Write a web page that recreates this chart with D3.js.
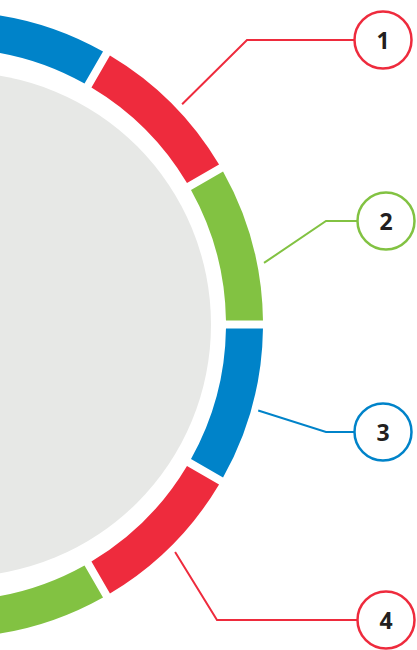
<!DOCTYPE html>
<html>
<head>
<meta charset="utf-8">
<script src="https://cdn.jsdelivr.net/npm/d3@7/dist/d3.min.js"></script>
<style>
  html, body { margin: 0; padding: 0; background: #fff; }
  svg { display: block; }
  .callout-label { font-family: "Open Sans", "DejaVu Sans", sans-serif; font-weight: 700; }
</style>
</head>
<body>
<svg id="chart" width="417" height="650"></svg>
<script>
// ring segments, clockwise from 12 o'clock
var segmentValues = [1, 1, 1, 1, 1, 1, 1, 1, 1, 1, 1, 1];
var segmentKinds = ["blue", "red", "green", "blue", "red", "green",
                    "blue", "red", "green", "blue", "red", "green"];
// numbered callouts and the segment each one points at
var calloutLabels = ["1", "2", "3", "4"];
var calloutSegments = [1, 2, 3, 4];

(function () {
  "use strict";

  var palette = { blue: "#0083c9", red: "#ee2b3d", green: "#82c242" };
  var width = 417, height = 650;

  // the circle is centred off the left edge of the picture
  var ringCx = -50, ringCy = 324.5, innerR = 276, outerR = 313;
  var diskCx = -41, diskR = 252;
  var anchorR = 320;

  // where along its segment each leader line starts, and the elbow / badge spots
  var anchorFrac = [0.55, 0.63, 0.52, 0.51];
  var elbows = [[247, 40], [326, 221], [326, 432], [217, 620]];
  var badges = [[383, 40], [386, 221], [383, 432], [386, 620]];
  var badgeR = 28.5;

  var svg = d3.select("#chart").attr("viewBox", "0 0 " + width + " " + height);

  svg.append("circle")
    .attr("cx", diskCx)
    .attr("cy", ringCy)
    .attr("r", diskR)
    .attr("fill", "#e7e8e6");

  var padAngle = 8 / Math.sqrt(innerR * innerR + outerR * outerR);
  var pie = d3.pie().sort(null).value(function (d) { return d; }).padAngle(padAngle);
  var arcs = pie(segmentValues);
  var arc = d3.arc().innerRadius(innerR).outerRadius(outerR);

  svg.append("g")
    .attr("transform", "translate(" + ringCx + "," + ringCy + ")")
    .selectAll("path")
    .data(arcs)
    .enter()
    .append("path")
    .attr("d", arc)
    .attr("fill", function (d, i) { return palette[segmentKinds[i]]; });

  function polar(angle, r) {
    return [ringCx + r * Math.sin(angle), ringCy - r * Math.cos(angle)];
  }

  var callouts = calloutLabels.map(function (label, i) {
    var seg = arcs[calloutSegments[i]];
    var a = seg.startAngle + (seg.endAngle - seg.startAngle) * anchorFrac[i];
    return {
      label: label,
      color: palette[segmentKinds[calloutSegments[i]]],
      start: polar(a, anchorR),
      elbow: elbows[i],
      badge: badges[i]
    };
  });

  var line = d3.line();
  var group = svg.append("g").attr("class", "callouts");

  var items = group.selectAll("g").data(callouts).enter().append("g");

  items.append("path")
    .attr("d", function (d) { return line([d.start, d.elbow, [d.badge[0], d.elbow[1]]]); })
    .attr("fill", "none")
    .attr("stroke", function (d) { return d.color; })
    .attr("stroke-width", 2);

  items.append("circle")
    .attr("cx", function (d) { return d.badge[0]; })
    .attr("cy", function (d) { return d.badge[1]; })
    .attr("r", badgeR)
    .attr("fill", "#fff")
    .attr("stroke", function (d) { return d.color; })
    .attr("stroke-width", 2.5);

  items.append("text")
    .attr("class", "callout-label")
    .attr("x", function (d) { return d.badge[0]; })
    .attr("y", function (d) { return d.badge[1]; })
    .attr("text-anchor", "middle")
    .attr("dominant-baseline", "central")
    .attr("font-size", 23)
    .attr("fill", "#231f20")
    .text(function (d) { return d.label; });
}());
</script>
</body>
</html>
